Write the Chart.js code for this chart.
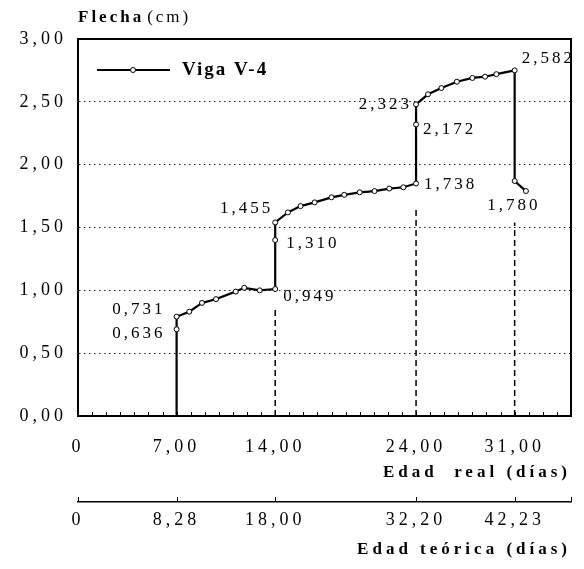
<!DOCTYPE html>
<html>
<head>
<meta charset="utf-8">
<script src="https://cdn.jsdelivr.net/npm/chart.js@4/dist/chart.umd.min.js"></script>
<style>
    html, body { margin: 0; padding: 0; background: #fff; }
    #wrap { width: 584px; height: 569px; position: relative; }
</style>
</head>
<body>
<div id="wrap"><canvas id="flechaChart"></canvas></div>
<script>
// Datos: edad real (días) y flecha (cm)
const edadReal = [0, 7, 7, 7, 7.9, 8.8, 9.8, 11.2, 11.8, 12.9, 14, 14, 14, 14.9, 15.8, 16.8, 18.0, 18.9, 20.0, 21.05, 22.1, 23.1, 24, 24, 24, 24.85, 25.8, 26.9, 28.0, 28.9, 29.7, 31, 31, 31.8];
const flecha = [0, 0, 0.69, 0.79, 0.83, 0.90, 0.93, 0.99, 1.02, 1.00, 1.01, 1.40, 1.54, 1.62, 1.67, 1.70, 1.74, 1.76, 1.78, 1.79, 1.81, 1.82, 1.85, 2.32, 2.48, 2.56, 2.61, 2.66, 2.69, 2.70, 2.72, 2.75, 1.87, 1.79];

// Líneas de referencia discontinuas
const guiaX = [14, 24, 31];
const guiaAlto = [0.86, 1.66, 1.54];

// Ejes
const ticksReal = [0, 7, 14, 24, 31];
const etiquetasReal = ['0', '7,00', '14,00', '24,00', '31,00'];
const etiquetasTeorica = ['0', '8,28', '18,00', '32,20', '42,23'];
const ticksFlecha = [0, 0.5, 1, 1.5, 2, 2.5, 3];

// Valores anotados junto a los puntos
const notaTexto = ['0,636', '0,731', '0,949', '1,310', '1,455', '1,738', '2,172', '2,323', '2,582', '1,780'];
const notaIndice = [2, 3, 10, 11, 12, 22, 23, 24, 31, 33];

const serieNombre = 'Viga V-4';

document.addEventListener('DOMContentLoaded', function() {
    const fuente = 'Liberation Serif, Times New Roman, serif';

    // posición de cada anotación respecto a su punto
    const notaPos = [
        { dx: -11, dy: 4, align: 'right' },
        { dx: -11, dy: -7, align: 'right' },
        { dx: 8, dy: 7, align: 'left' },
        { dx: 11, dy: 3, align: 'left' },
        { dx: -2, dy: -14, align: 'right' },
        { dx: 8, dy: 1, align: 'left' },
        { dx: 7, dy: 5, align: 'left' },
        { dx: -4, dy: 0, align: 'right' },
        { dx: 7, dy: -12, align: 'left' },
        { dx: -12, dy: 14, align: 'center' }
    ];

    const puntos = edadReal.map((x, i) => ({ x: x, y: flecha[i] }));
    const radios = edadReal.map((x, i) => (flecha[i] === 0 ? 0 : 2.5));

    const datasets = [{
        label: serieNombre,
        data: puntos,
        borderColor: '#000',
        borderWidth: 2.2,
        tension: 0,
        fill: false,
        pointRadius: radios,
        pointBackgroundColor: '#fff',
        pointBorderColor: '#000',
        pointBorderWidth: 1
    }];
    guiaX.forEach((gx, i) => {
        datasets.push({
            label: 'guia' + i,
            data: [{ x: gx, y: 0 }, { x: gx, y: guiaAlto[i] }],
            borderColor: '#000',
            borderWidth: 1.5,
            borderDash: [6, 4],
            pointRadius: 0,
            fill: false
        });
    });

    // Texto, marco, leyenda y marcas menores
    const extras = {
        id: 'extras',
        beforeDraw(chart) {
            chart.ctx.letterSpacing = '4px';
        },
        afterDraw(chart) {
            const ctx = chart.ctx;
            const area = chart.chartArea;
            const xs = chart.scales.x;
            const x2 = chart.scales.x2;
            ctx.save();
            ctx.letterSpacing = '0px';
            ctx.strokeStyle = '#000';

            // marco superior y derecho
            ctx.lineWidth = 2;
            ctx.beginPath();
            ctx.moveTo(area.left, area.top);
            ctx.lineTo(area.right, area.top);
            ctx.lineTo(area.right, area.bottom);
            ctx.stroke();

            // marcas menores en el eje de edad real (cada día)
            ctx.lineWidth = 1;
            ctx.beginPath();
            for (let d = 1; d < 35; d++) {
                const px = Math.round(xs.getPixelForValue(d)) + 0.5;
                ctx.moveTo(px, area.bottom);
                ctx.lineTo(px, area.bottom - 4);
            }
            ctx.stroke();

            // marcas en el eje de edad teórica
            ctx.beginPath();
            ticksReal.concat([35]).forEach(v => {
                const px = Math.round(x2.getPixelForValue(v)) + 0.5;
                ctx.moveTo(px, x2.top);
                ctx.lineTo(px, x2.top - 5);
            });
            ctx.stroke();

            // título del eje Y
            ctx.fillStyle = '#000';
            ctx.textBaseline = 'middle';
            ctx.textAlign = 'left';
            ctx.letterSpacing = '3px';
            ctx.font = 'bold 17px ' + fuente;
            ctx.fillText('Flecha', 78, 18);
            const w = ctx.measureText('Flecha').width;
            ctx.font = '17px ' + fuente;
            ctx.fillText('(cm)', 78 + w + 3, 18);

            // leyenda
            ctx.lineWidth = 2;
            ctx.beginPath();
            ctx.moveTo(97, 70);
            ctx.lineTo(170, 70);
            ctx.stroke();
            ctx.lineWidth = 1;
            ctx.fillStyle = '#fff';
            ctx.beginPath();
            ctx.arc(133, 70, 2.5, 0, Math.PI * 2);
            ctx.fill();
            ctx.stroke();
            ctx.fillStyle = '#000';
            ctx.font = 'bold 19px ' + fuente;
            ctx.letterSpacing = '2px';
            ctx.fillText(serieNombre, 182, 70);

            // anotaciones de valores
            const meta = chart.getDatasetMeta(0);
            ctx.font = '17px ' + fuente;
            ctx.letterSpacing = '3px';
            notaTexto.forEach((t, i) => {
                const el = meta.data[notaIndice[i]];
                const p = notaPos[i];
                ctx.textAlign = p.align;
                ctx.fillText(t, el.x + p.dx, el.y + p.dy);
            });
            ctx.restore();
        }
    };

    const ctx = document.getElementById('flechaChart').getContext('2d');
    new Chart(ctx, {
        type: 'line',
        data: { datasets: datasets },
        options: {
            responsive: true,
            maintainAspectRatio: false,
            animation: false,
            layout: { padding: { top: 39, right: 13, left: 0, bottom: 0 } },
            plugins: {
                legend: { display: false },
                tooltip: { enabled: false }
            },
            scales: {
                x: {
                    type: 'linear',
                    position: 'bottom',
                    min: 0,
                    max: 35,
                    afterBuildTicks: s => { s.ticks = ticksReal.map(v => ({ value: v })); },
                    afterFit: s => { s.height = 86; },
                    ticks: {
                        autoSkip: false,
                        maxRotation: 0,
                        padding: 20,
                        color: '#000',
                        font: { family: fuente, size: 18 },
                        callback: (v) => etiquetasReal[ticksReal.indexOf(v)]
                    },
                    grid: { display: false, drawTicks: false },
                    border: { display: true, color: '#000', width: 2 },
                    title: {
                        display: true,
                        text: 'Edad  real (días)',
                        align: 'end',
                        color: '#000',
                        padding: { top: 0, bottom: 19 },
                        font: { family: fuente, size: 17, weight: 'bold' }
                    }
                },
                x2: {
                    type: 'linear',
                    position: 'bottom',
                    min: 0,
                    max: 35,
                    afterBuildTicks: s => { s.ticks = ticksReal.map(v => ({ value: v })); },
                    afterFit: s => { s.height = 67; },
                    ticks: {
                        autoSkip: false,
                        maxRotation: 0,
                        padding: 7,
                        color: '#000',
                        font: { family: fuente, size: 18 },
                        callback: (v) => etiquetasTeorica[ticksReal.indexOf(v)]
                    },
                    grid: { display: false, drawTicks: false },
                    border: { display: true, color: '#000', width: 1.5 },
                    title: {
                        display: true,
                        text: 'Edad teórica (días)',
                        align: 'end',
                        color: '#000',
                        padding: { top: 0, bottom: 9 },
                        font: { family: fuente, size: 17, weight: 'bold' }
                    }
                },
                y: {
                    min: 0,
                    max: 3,
                    afterBuildTicks: s => { s.ticks = ticksFlecha.map(v => ({ value: v })); },
                    afterFit: s => { s.width = 78; },
                    ticks: {
                        padding: 11,
                        color: '#000',
                        font: { family: fuente, size: 18 },
                        callback: (v) => v.toFixed(2).replace('.', ',')
                    },
                    grid: {
                        drawTicks: false,
                        lineWidth: 1,
                        color: c => (c.tick && (c.tick.value === 0 || c.tick.value === 3)) ? 'rgba(0,0,0,0)' : '#222'
                    },
                    border: { display: true, color: '#000', width: 2, dash: [1.5, 3.5] }
                }
            }
        },
        plugins: [extras]
    });
});
</script>
</body>
</html>
